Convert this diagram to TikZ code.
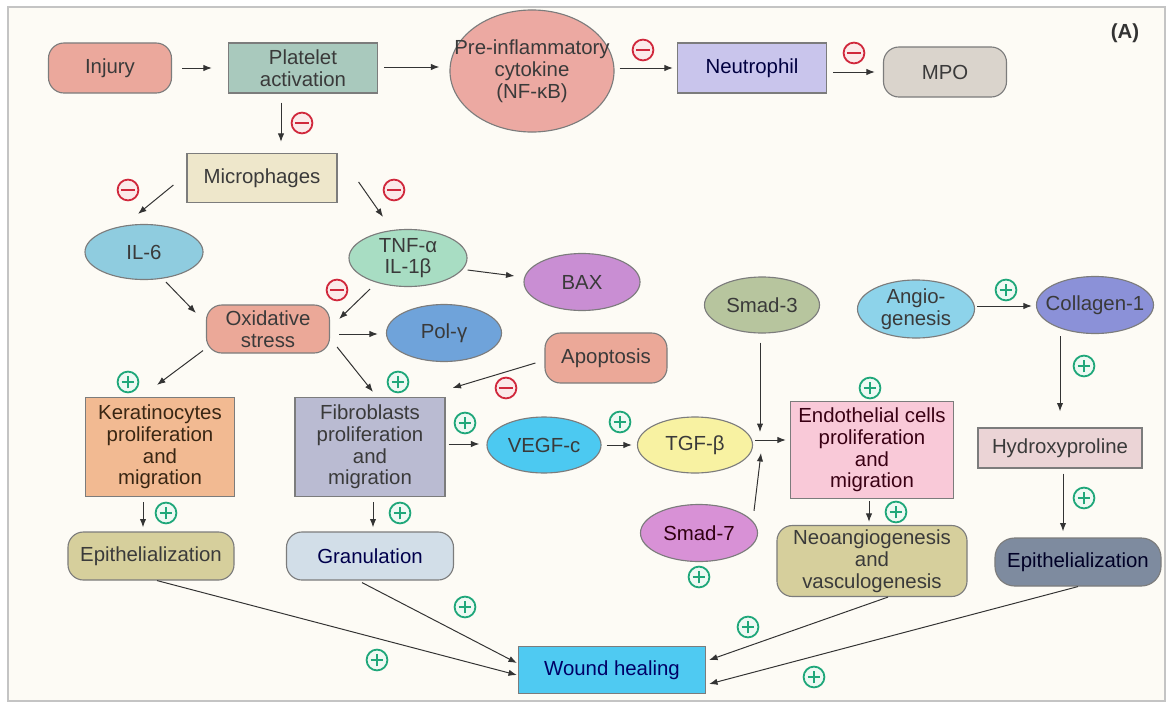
\documentclass[tikz,border=0pt]{standalone}
\usepackage{fontspec}
\setmainfont{Liberation Sans}
\usepackage{xcolor}
\usepackage{tikz}
\usetikzlibrary{arrows.meta,positioning,shapes.geometric}
\definecolor{PageBG}     {HTML}{FDFBF5}
\definecolor{FrameGray}  {HTML}{C4C4C4}
\definecolor{EdgeGray}   {HTML}{7C7C7C}
\definecolor{ArrowGray}  {HTML}{333333}
\definecolor{TextGray}   {HTML}{3A3A3A}
\definecolor{PlusGreen}  {HTML}{1FA77A}
\definecolor{MinusRed}   {HTML}{D0283C}
\definecolor{PlusBG}     {HTML}{EEF9F3}
\definecolor{MinusBG}    {HTML}{FBEAEA}
\definecolor{InjuryFill} {HTML}{EBA89C}
\definecolor{PlateFill}  {HTML}{A9C9BD}
\definecolor{CytoFill}   {HTML}{ECA9A2}
\definecolor{NeutroFill} {HTML}{C9C5EC}
\definecolor{MpoFill}    {HTML}{DAD4CC}
\definecolor{MicroFill}  {HTML}{EEE7CB}
\definecolor{IlsixFill}  {HTML}{8FCCDF}
\definecolor{TnfFill}    {HTML}{A8DDC3}
\definecolor{BaxFill}    {HTML}{C98ED3}
\definecolor{OxiFill}    {HTML}{EBA898}
\definecolor{PolFill}    {HTML}{6FA3DA}
\definecolor{SmadFill}   {HTML}{B7C59E}
\definecolor{AngioFill}  {HTML}{8DD3EA}
\definecolor{CollFill}   {HTML}{8B91D8}
\definecolor{KeraFill}   {HTML}{F2BA92}
\definecolor{FibroFill}  {HTML}{BABBD2}
\definecolor{VegfFill}   {HTML}{4CC9F1}
\definecolor{TgfFill}    {HTML}{F8F2A2}
\definecolor{EndoFill}   {HTML}{F9C9D8}
\definecolor{HydroFill}  {HTML}{EBD4D6}
\definecolor{SmadSevFill}{HTML}{D891D6}
\definecolor{KhakiFill}  {HTML}{D6CF9C}
\definecolor{GranFill}   {HTML}{D2DEE8}
\definecolor{SlateFill}  {HTML}{7E8B9F}
\definecolor{WoundFill}  {HTML}{4FCAF2}

\tikzset{
  box/.style={draw=EdgeGray,line width=0.8pt,align=center,inner sep=2pt,
              text=TextGray,font=\fontsize{14.5}{15.5}\selectfont},
  rbox/.style={box,rounded corners=11pt},
  oval/.style={box,ellipse,inner ysep=0pt,inner xsep=-6pt},
  flow/.style={draw=ArrowGray,line width=0.7pt,-{Latex[length=6pt,width=4.5pt]}},
  possign/.style={circle,draw=PlusGreen,fill=PlusBG,line width=1.3pt,
                  minimum size=0.52cm,inner sep=0pt,
                  path picture={\draw[PlusGreen,line width=1.5pt]
                    ([xshift=-4.5pt]path picture bounding box.center) --
                    ([xshift=4.5pt]path picture bounding box.center)
                    ([yshift=-4.5pt]path picture bounding box.center) --
                    ([yshift=4.5pt]path picture bounding box.center);}},
  negsign/.style={circle,draw=MinusRed,fill=MinusBG,line width=1.3pt,
                  minimum size=0.52cm,inner sep=0pt,
                  path picture={\draw[MinusRed,line width=1.8pt]
                    ([xshift=-5pt]path picture bounding box.center) --
                    ([xshift=5pt]path picture bounding box.center);}},
}

\begin{document}
\begin{tikzpicture}[x=0.025cm,y=-0.025cm]
    \useasboundingbox (0,0) rectangle (1172,704);
    \fill[white] (0,0) rectangle (1172,704);
    \draw[FrameGray,fill=PageBG,line width=0.8pt] (8,7) rectangle (1165,701);
    \node[font=\bfseries\fontsize{14.5}{15.5}\selectfont,text=ArrowGray] (tag) at (1125,33) {(A)};

    % inflammation row
    \node[rbox,fill=InjuryFill,minimum width=3.075cm,minimum height=1.25cm] (inj) at (110,68) {Injury};
    \node[box,fill=PlateFill,minimum width=3.725cm,minimum height=1.25cm] (plt) at (303,68) {Platelet\\activation};
    \node[oval,fill=CytoFill,minimum width=4.1cm,minimum height=3.05cm,inner xsep=-15pt] (cyto) at (532,71) {Pre-inflammatory\\cytokine\\(NF-κB)};
    \node[box,fill=NeutroFill,minimum width=3.725cm,minimum height=1.25cm,text=black!75!blue] (neu) at (752,68) {Neutrophil};
    \node[rbox,fill=MpoFill,minimum width=3.075cm,minimum height=1.25cm] (mpo) at (945,72) {MPO};

    \node[box,fill=MicroFill,minimum width=3.75cm,minimum height=1.225cm] (mic) at (262,178) {Microphages};
    \node[oval,fill=IlsixFill,minimum width=2.95cm,minimum height=1.375cm] (ilsix) at (144,252) {IL-6};
    \node[oval,fill=TnfFill,minimum width=2.95cm,minimum height=1.425cm] (tnf) at (408,258) {TNF-α\\IL-1β};
    \node[oval,fill=BaxFill,minimum width=2.9cm,minimum height=1.425cm] (bax) at (582,282) {BAX};
    \node[rbox,fill=OxiFill,minimum width=3.075cm,minimum height=1.2cm] (oxi) at (268,329) {Oxidative\\stress};
    \node[oval,fill=PolFill,minimum width=2.875cm,minimum height=1.425cm] (pol) at (444,333) {Pol-γ};
    \node[rbox,fill=OxiFill,minimum width=3.05cm,minimum height=1.25cm] (apo) at (606,358) {Apoptosis};

    % proliferation row
    \node[oval,fill=SmadFill,minimum width=2.875cm,minimum height=1.4cm] (smthree) at (762,305) {Smad-3};
    \node[oval,fill=AngioFill,minimum width=2.925cm,minimum height=1.45cm] (ang) at (916,309) {Angio-\\genesis};
    \node[oval,fill=CollFill,minimum width=2.925cm,minimum height=1.425cm] (col) at (1095,305) {Collagen-1};
    \node[box,fill=KeraFill,minimum width=3.725cm,minimum height=2.475cm,text=black!70!brown] (ker) at (160,447) {Keratinocytes\\proliferation\\and\\migration};
    \node[box,fill=FibroFill,minimum width=3.75cm,minimum height=2.475cm] (fib) at (370,447) {Fibroblasts\\proliferation\\and\\migration};
    \node[oval,fill=VegfFill,minimum width=2.85cm,minimum height=1.4cm] (vegf) at (544,445) {VEGF-c};
    \node[oval,fill=TgfFill,minimum width=2.875cm,minimum height=1.4cm] (tgf) at (695,445) {TGF-β};
    \coordinate (tj) at (761,440);
    \node[box,fill=EndoFill,minimum width=4.075cm,minimum height=2.425cm,text=black!70!purple] (endo) at (872,450) {Endothelial cells\\proliferation\\and\\migration};
    \node[box,fill=HydroFill,minimum width=4.1cm,minimum height=1cm] (hyd) at (1060,448) {Hydroxyproline};
    \node[oval,fill=SmadSevFill,minimum width=2.925cm,minimum height=1.425cm,text=black!75!purple] (smseven) at (699,533) {Smad-7};

    % outcomes
    \node[rbox,fill=KhakiFill,minimum width=4.15cm,minimum height=1.2cm] (epl) at (151,556) {Epithelialization};
    \node[rbox,fill=GranFill,minimum width=4.175cm,minimum height=1.2cm,text=black!70!blue] (gra) at (370,556) {Granulation};
    \node[rbox,fill=KhakiFill,minimum width=4.75cm,minimum height=1.775cm] (neo) at (872,561) {Neoangiogenesis\\and\\vasculogenesis};
    \node[rbox,fill=SlateFill,minimum width=4.15cm,minimum height=1.2cm,rounded corners=14pt,text=black!85!blue] (epr) at (1078,562) {Epithelialization};
    \node[box,fill=WoundFill,minimum width=4.675cm,minimum height=1.175cm,text=black!60!blue] (wnd) at (612,670) {Wound healing};

    % arrows
    \draw[flow] ([shift={(10,0)}]inj.east) -- ([shift={(-16,0)}]plt.west);
    \draw[flow] ([shift={(6,-1)}]plt.east) -- ([shift={(-10,-4)}]cyto.west);
    \draw[flow] ([shift={(5,-3)}]cyto.east) -- ([shift={(-4,0)}]neu.west);
    \draw[flow] ([shift={(6,4)}]neu.east) -- ([shift={(-8,0)}]mpo.west);
    \draw[flow] ([shift={(-22,9)}]plt.south) -- ([shift={(19,-11)}]mic.north);
    \draw[flow] ([shift={(-13,7)}]mic.west) -- ([shift={(-6,-10)}]ilsix.north);
    \draw[flow] ([shift={(21,4)}]mic.east) -- ([shift={(-25,-12)}]tnf.north);
    \draw[flow] ([shift={(22,2)}]ilsix.south) -- ([shift={(-10,-16)}]oxi.west);
    \draw[flow] ([shift={(-38,2)}]tnf.south) -- ([shift={(9,-10)}]oxi.east);
    \draw[flow] ([shift={(0,12)}]tnf.east) -- ([shift={(-9,-6)}]bax.west);
    \draw[flow] ([shift={(9,5)}]oxi.east) -- ([shift={(-8,1)}]pol.west);
    \draw[flow] ([shift={(-65,-3)}]oxi.south) -- ([shift={(-3,-12)}]ker.north);
    \draw[flow] ([shift={(7,18)}]oxi.east) -- ([shift={(3,-5)}]fib.north);
    \draw[flow] ([shift={(-9,5)}]apo.west) -- ([shift={(7,-9)}]fib.north east);
    \draw[flow] ([shift={(3,-3)}]fib.east) -- ([shift={(-7,-1)}]vegf.west);
    \draw[flow] ([shift={(5,0)}]vegf.east) -- ([shift={(-5,0)}]tgf.west);
    \draw[flow] ([shift={(2,-5)}]tgf.east) -- ([shift={(-4,-10)}]endo.west);
    \draw[flow] ([shift={(-2,9)}]smthree.south) -- ([shift={(-1,-8)}]tj);
    \draw[flow] ([shift={(55,7)}]smseven.north) -- ([shift={(0,13)}]tj);
    \draw[flow] ([shift={(2,-3)}]ang.east) -- ([shift={(-4,1)}]col.west);
    \draw[flow] ([shift={(-35,2)}]col.south) -- ([shift={(0,-16)}]hyd.north);
    \draw[flow] ([shift={(3,5)}]hyd.south) -- ([shift={(-15,-6)}]epr.north);
    \draw[flow] ([shift={(-17,5)}]ker.south) -- ([shift={(-8,-4)}]epl.north);
    \draw[flow] ([shift={(3,5)}]fib.south) -- ([shift={(3,-4)}]gra.north);
    \draw[flow] ([shift={(-3,2)}]endo.south) -- ([shift={(-3,-3)}]neo.north);
    \draw[flow] ([shift={(6,0)}]epl.south) -- ([shift={(-1,5)}]wnd.west);
    \draw[flow] ([shift={(-8,2)}]gra.south) -- ([shift={(-1,-7)}]wnd.west);
    \draw[flow] ([shift={(16,0)}]neo.south) -- ([shift={(3,-10)}]wnd.east);
    \draw[flow] (epr.south) -- ([shift={(3,14)}]wnd.east);

    % signs
    \foreach \sx/\sy [count=\k] in {643/50,854/53,302/123,128/190,394/190,337/290,506/388}
      \node[negsign] (neg\k) at (\sx,\sy) {};
    \foreach \sx/\sy [count=\k] in {128/382,398/382,465/423,620/422,870/388,1006/290,1084/366,1084/498,
                                    166/513,400/513,896/512,699/577,377/660,465/607,748/627,814/677}
      \node[possign] (pos\k) at (\sx,\sy) {};
  \end{tikzpicture}
\end{document}
